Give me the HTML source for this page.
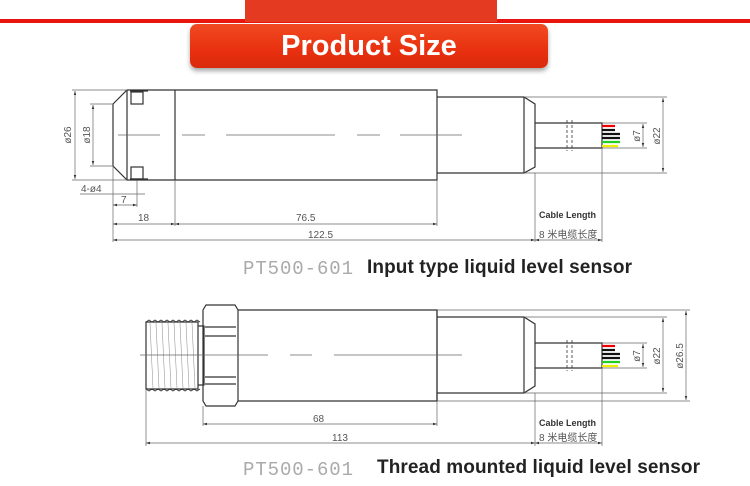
<!DOCTYPE html>
<html><head><meta charset="utf-8"><style>
html,body{margin:0;padding:0;background:#fff;}
body{width:750px;height:486px;overflow:hidden;position:relative;font-family:"Liberation Sans","Noto Sans CJK SC",sans-serif;}
.redline{position:absolute;left:0;top:19px;width:750px;height:4px;background:#e8150e;}
.tab{position:absolute;left:245px;top:0;width:252px;height:22px;background:#e43a22;}
.btn{position:absolute;left:190px;top:24px;width:358px;height:44px;border-radius:7px;background:linear-gradient(#f14a22,#e8300f 60%,#d9290c);box-shadow:0 3px 5px rgba(0,0,0,.35);color:#fff;font-weight:bold;font-size:29px;text-align:center;line-height:44px;font-family:"Liberation Sans","Noto Sans CJK SC",sans-serif;}
svg{position:absolute;left:0;top:0;}
</style></head><body>
<div class="redline"></div><div class="tab"></div>
<div class="btn">Product Size</div>
<svg width="750" height="486" viewBox="0 0 750 486">
<defs><marker id="a" viewBox="0 0 10 6" refX="10" refY="3" markerWidth="6" markerHeight="4" orient="auto-start-reverse"><path d="M0,0L10,3L0,6z" fill="#333"/></marker></defs>
<g stroke="#333" stroke-width="1.2" fill="none">
<path d="M113,104L127,90L437,90L437,180L127,180L113,166Z"/>
<line x1="127" y1="90" x2="127" y2="180"/>
<line x1="175" y1="90" x2="175" y2="180"/>
<path d="M130,91h18M130,179h18" />
<rect x="131" y="92" width="12" height="12"/><rect x="131" y="167" width="12" height="12"/>
<path d="M437,97H524L535,104V167L524,173H437M524,97V173"/>
<path d="M535,123H602V148H535"/>
<line x1="567" y1="120" x2="567" y2="151" stroke-dasharray="3,2" stroke-width=".8"/>
<line x1="572" y1="120" x2="572" y2="151" stroke-dasharray="3,2" stroke-width=".8"/>
</g>
<g stroke-width="2.2">
<line x1="602" y1="126" x2="615" y2="126" stroke="#e00"/>
<line x1="602" y1="130" x2="615" y2="130" stroke="#111"/>
<line x1="602" y1="134" x2="620" y2="134" stroke="#111"/>
<line x1="602" y1="138" x2="620" y2="138" stroke="#111"/>
<line x1="602" y1="142" x2="620" y2="142" stroke="#2c2"/>
<line x1="602" y1="146" x2="618" y2="146" stroke="#ee0"/>
</g>
<g stroke="#666" stroke-width=".7" fill="none">
<line x1="118" y1="135" x2="160" y2="135"/><line x1="182" y1="135" x2="205" y2="135"/><line x1="226" y1="135" x2="335" y2="135"/><line x1="357" y1="135" x2="380" y2="135"/><line x1="400" y1="135" x2="462" y2="135"/>
<path d="M72,90H127M72,180H127M90,104H113M90,166H113"/>
<line x1="75" y1="91" x2="75" y2="179" marker-start="url(#a)" marker-end="url(#a)"/>
<line x1="93" y1="105" x2="93" y2="165" marker-start="url(#a)" marker-end="url(#a)"/>
<path d="M113,166V242M137,180V207M175,180V226M437,180V226M535,173V242M602,148V242"/>
<path d="M80,194H145"/>
<line x1="113" y1="205" x2="137" y2="205" marker-start="url(#a)" marker-end="url(#a)"/>
<line x1="113" y1="224" x2="175" y2="224" marker-start="url(#a)" marker-end="url(#a)"/>
<line x1="175" y1="224" x2="437" y2="224" marker-start="url(#a)" marker-end="url(#a)"/>
<line x1="113" y1="240" x2="535" y2="240" marker-start="url(#a)" marker-end="url(#a)"/>
<line x1="535" y1="240" x2="602" y2="240" marker-start="url(#a)" marker-end="url(#a)"/>
<path d="M524,97H667M524,173H667M602,123H647M602,148H647"/>
<line x1="643" y1="124" x2="643" y2="147" marker-start="url(#a)" marker-end="url(#a)"/>
<line x1="663" y1="98" x2="663" y2="172" marker-start="url(#a)" marker-end="url(#a)"/>
</g>
<g fill="#555" font-size="10" font-family="Liberation Sans,sans-serif">
<text x="71" y="135" transform="rotate(-90 71 135)" text-anchor="middle">ø26</text>
<text x="90" y="135" transform="rotate(-90 90 135)" text-anchor="middle">ø18</text>
<text x="640" y="136" transform="rotate(-90 640 136)" text-anchor="middle">ø7</text>
<text x="660" y="136" transform="rotate(-90 660 136)" text-anchor="middle">ø22</text>
<text x="81" y="192">4-ø4</text>
<text x="121" y="203">7</text>
<text x="138" y="221">18</text>
<text x="296" y="221">76.5</text>
<text x="308" y="238">122.5</text>
</g>
<g stroke="#333" stroke-width="1.2" fill="none">
<path d="M146,322H198V389H146Z"/>
<path d="M146,322l3,-2 3,2 3,-2 3,2 3,-2 3,2 3,-2 3,2 3,-2 3,2 3,-2 3,2 3,-2 3,2 3,-2 3,2 3,-2 3,2M146,389l3,2 3,-2 3,2 3,-2 3,2 3,-2 3,2 3,-2 3,2 3,-2 3,2 3,-2 3,2 3,-2 3,2 3,-2 3,2 3,-2" stroke-width=".8"/>
<path d="M198,326H204V385H198"/>
<path d="M206,305H235L238,310V401L235,406H206L203,401V310Z"/>
<path d="M205,327H236M205,336H236M205,377H236M205,384H236"/>
<path d="M238,310H437V401H238"/>
<path d="M437,310V401"/>
<path d="M437,317H524L535,324V386L524,393H437M524,317V393"/>
<path d="M535,343H602V368H535"/>
<line x1="567" y1="340" x2="567" y2="371" stroke-dasharray="3,2" stroke-width=".8"/>
<line x1="572" y1="340" x2="572" y2="371" stroke-dasharray="3,2" stroke-width=".8"/>
</g>
<g stroke="#888" stroke-width=".5">
<path d="M150,323l3,65M156,323l3,65M162,323l3,65M168,323l3,65M174,323l3,65M180,323l3,65M186,323l3,65M192,323l3,65"/>
</g>
<g stroke-width="2.2">
<line x1="602" y1="346" x2="615" y2="346" stroke="#e00"/>
<line x1="602" y1="350" x2="615" y2="350" stroke="#111"/>
<line x1="602" y1="354" x2="620" y2="354" stroke="#111"/>
<line x1="602" y1="358" x2="620" y2="358" stroke="#111"/>
<line x1="602" y1="362" x2="620" y2="362" stroke="#2c2"/>
<line x1="602" y1="366" x2="618" y2="366" stroke="#ee0"/>
</g>
<g stroke="#666" stroke-width=".7" fill="none">
<line x1="140" y1="355" x2="268" y2="355"/><line x1="290" y1="355" x2="312" y2="355"/><line x1="334" y1="355" x2="462" y2="355"/>
<path d="M146,389V446M203,406V426M437,401V426M535,393V446M602,368V446"/>
<line x1="203" y1="424" x2="437" y2="424" marker-start="url(#a)" marker-end="url(#a)"/>
<line x1="146" y1="443" x2="535" y2="443" marker-start="url(#a)" marker-end="url(#a)"/>
<line x1="535" y1="443" x2="602" y2="443" marker-start="url(#a)" marker-end="url(#a)"/>
<path d="M437,310H690M437,401H690M524,317H667M524,393H667M602,343H647M602,368H647"/>
<line x1="643" y1="344" x2="643" y2="367" marker-start="url(#a)" marker-end="url(#a)"/>
<line x1="663" y1="318" x2="663" y2="392" marker-start="url(#a)" marker-end="url(#a)"/>
<line x1="686" y1="311" x2="686" y2="400" marker-start="url(#a)" marker-end="url(#a)"/>
</g>
<g fill="#555" font-size="10" font-family="Liberation Sans,sans-serif">
<text x="640" y="356" transform="rotate(-90 640 356)" text-anchor="middle">ø7</text>
<text x="660" y="356" transform="rotate(-90 660 356)" text-anchor="middle">ø22</text>
<text x="683" y="356" transform="rotate(-90 683 356)" text-anchor="middle">ø26.5</text>
<text x="313" y="422">68</text>
<text x="332" y="441">113</text>
</g>
<g font-family="Liberation Sans,'Noto Sans CJK SC',sans-serif">
<text x="539" y="218" font-size="9" font-weight="bold" fill="#333">Cable Length</text>
<text x="539" y="238" font-size="10" fill="#555">8 米电缆长度</text>
<text x="539" y="426" font-size="9" font-weight="bold" fill="#333">Cable Length</text>
<text x="539" y="441" font-size="10" fill="#555">8 米电缆长度</text>
<text x="243" y="274" font-size="19" fill="#aaa" font-family="Liberation Mono,monospace" textLength="110">PT500-601</text>
<text x="367" y="273" font-size="19" font-weight="bold" fill="#222" textLength="265">Input type liquid level sensor</text>
<text x="243" y="475" font-size="19" fill="#aaa" font-family="Liberation Mono,monospace" textLength="110">PT500-601</text>
<text x="377" y="473" font-size="19" font-weight="bold" fill="#222" textLength="323">Thread mounted liquid level sensor</text>
</g>
</svg>
</body></html>
